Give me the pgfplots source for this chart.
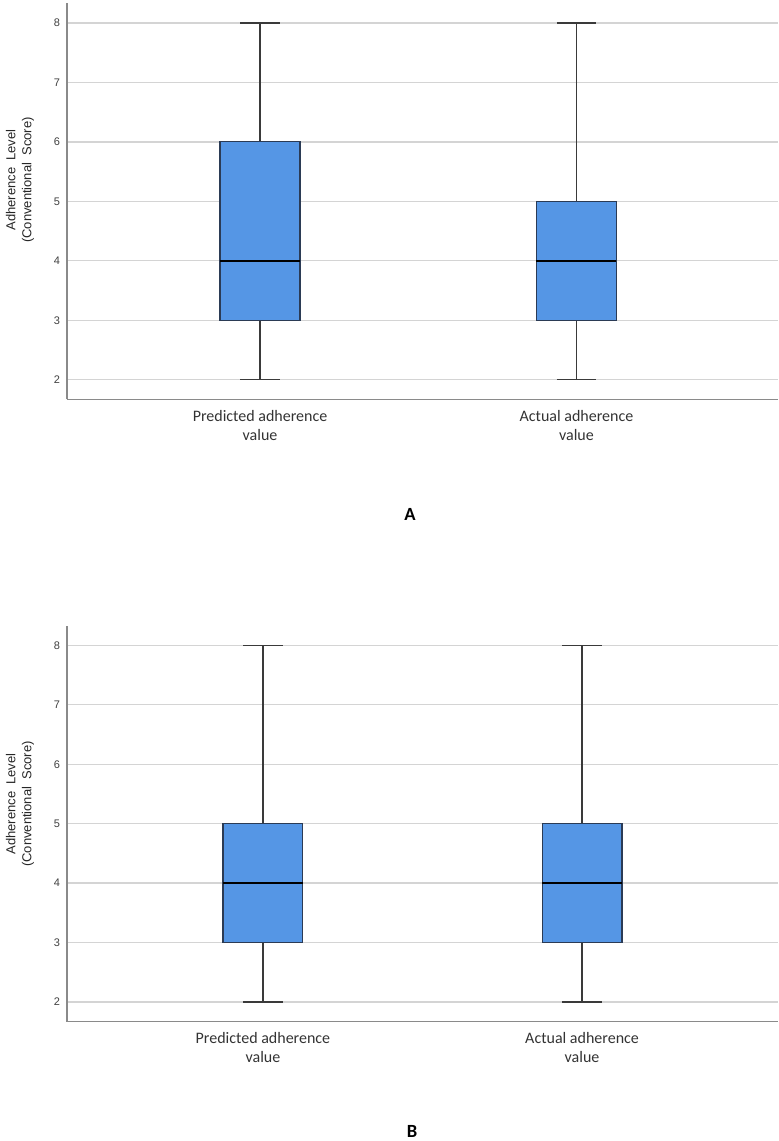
\documentclass[border=0pt]{standalone}
\usepackage{fontspec}
\setmainfont{Carlito}
\newfontfamily\arialfont{Liberation Sans}
\usepackage{pgfplots}
\pgfplotsset{compat=1.18}
\usepgfplotslibrary{statistics}
\definecolor{boxfill}{HTML}{5596E5}
\definecolor{boxedge}{HTML}{2B3B55}
\definecolor{whisk}{HTML}{3A3A3A}
\definecolor{gridc}{HTML}{D4D4D4}
\definecolor{axisc}{HTML}{8A8A8A}
\pgfplotsset{panel/.style={
  scale only axis, width=355.5pt, height=198pt,
  ymin=1.67, ymax=8.33, ytick={2,...,8},
  axis lines=left, axis line style={axisc, line width=0.7pt, -},
  ymajorgrids, grid style={gridc, line width=0.7pt},
  major tick length=0pt,
  xtick={0,1}, xticklabels={{Predicted adherence\\value},{Actual adherence\\value}},
  x tick label style={align=center, font=\fontsize{8}{9.5}\selectfont, text=black!80, yshift=-2pt},
  y tick label style={font=\fontsize{5.5}{6}\arialfont, text=black!75},
  /pgf/number format/assume math mode=true,
  boxplot/draw direction=y,
  boxplot/every box/.style={draw=boxedge, fill=boxfill, line width=0.6pt},
  boxplot/every whisker/.style={draw=whisk, line width=0.75pt},
  boxplot/every median/.style={draw=black, line width=1.2pt},
}}
\pgfplotsset{bx/.style={solid, mark=none, draw=whisk, line width=0.75pt}}
\begin{document}
\begin{tikzpicture}
\path[use as bounding box] (0,0) rectangle (389pt,-570.5pt);
% Panel A
\begin{axis}[panel, at={(33.5pt,-199.65pt)}, anchor=south west, xmin=-0.61, xmax=1.637]
\addplot[bx, boxplot prepared={draw position=0, lower whisker=2, lower quartile=3, median=4, upper quartile=6, upper whisker=8, box extend=0.253, whisker extend=0.124}] coordinates {};
\addplot[bx, boxplot prepared={draw position=1, lower whisker=2, lower quartile=3, median=4, upper quartile=5, upper whisker=8, box extend=0.253, whisker extend=0.124}] coordinates {};
\end{axis}
\node[rotate=90, align=center, font=\fontsize{6.5}{8}\arialfont, text=black!85] at (10pt,-90pt) {Adherence~~Level\\(Conventional~~Score)};
\node[font=\fontsize{9.3}{11}\selectfont\bfseries] at (205pt,-257pt) {A};
% Panel B
\begin{axis}[panel, at={(33.5pt,-510.85pt)}, anchor=south west, xmin=-0.614, xmax=1.614]
\addplot[bx, boxplot prepared={draw position=0, lower whisker=2, lower quartile=3, median=4, upper quartile=5, upper whisker=8, box extend=0.25, whisker extend=0.124}] coordinates {};
\addplot[bx, boxplot prepared={draw position=1, lower whisker=2, lower quartile=3, median=4, upper quartile=5, upper whisker=8, box extend=0.25, whisker extend=0.124}] coordinates {};
\end{axis}
\node[rotate=90, align=center, font=\fontsize{6.5}{8}\arialfont, text=black!85] at (10pt,-402pt) {Adherence~~Level\\(Conventional~~Score)};
\node[font=\fontsize{9.3}{11}\selectfont\bfseries] at (206pt,-565.5pt) {B};
\end{tikzpicture}
\end{document}
